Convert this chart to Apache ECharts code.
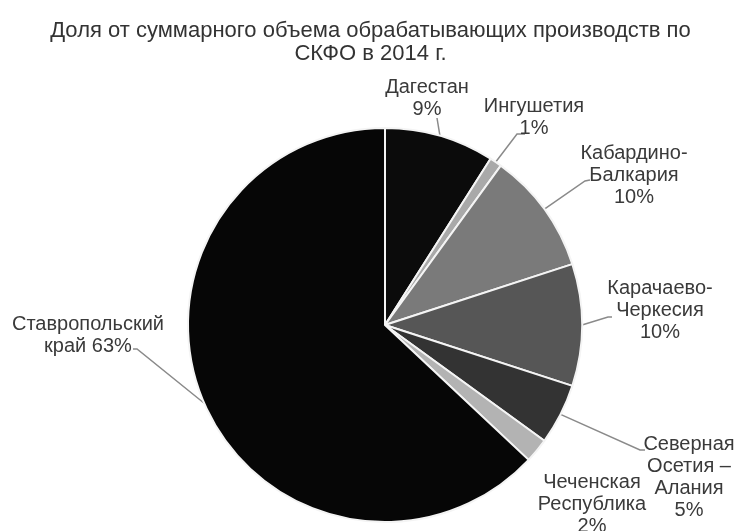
<!DOCTYPE html>
<html><head><meta charset="utf-8">
<script src="https://cdn.jsdelivr.net/npm/echarts@6/dist/echarts.min.js"></script>
<style>html,body{margin:0;padding:0;background:#fff}#c{width:741px;height:531px}</style>
</head><body><div id="c"></div>
<script>
const categories = ['Дагестан','Ингушетия','Кабардино-\nБалкария','Карачаево-\nЧеркесия','Северная\nОсетия –\nАлания','Чеченская\nРеспублика','Ставропольский\nкрай'];
const values = [9, 1, 10, 10, 5, 2, 63];
const titleText = 'Доля от суммарного объема обрабатывающих производств по\nСКФО в 2014 г.';

const colors = ['#0b0b0b','#a9a9a9','#7a7a7a','#565656','#333333','#b3b3b3','#060606'];
// label block centres and leader-line elbows (layout only)
const labelPos = [[427,98],[534,117],[634,175],[660,310],[689,477],[592,504],[88,335]];
const elbow = [null,[517,134],[585,181],[608,317],[640,450],null,[137,349]];
const lineEnd = [[437,118],[525,134],[590,180],[612,317],[645,450],null,[133,349]];

const chart = echarts.init(document.getElementById('c'));
chart.setOption({
  animation:false,
  title:{text:titleText,left:'center',top:14,textStyle:{fontFamily:'Liberation Sans',fontSize:22,fontWeight:'normal',color:'#333',lineHeight:23}},
  series:[{
    type:'pie',
    center:[385,325],
    radius:197,
    startAngle:90,
    clockwise:true,
    itemStyle:{borderColor:'#f4f4f4',borderWidth:2},
    label:{show:true,position:'outside',overflow:'none',width:300,fontFamily:'Liberation Sans',fontSize:20,color:'#3a3a3a',lineHeight:22,align:'center',
      formatter:p=>p.dataIndex===6?p.name+' '+p.value+'%':p.name+'\n'+p.value+'%'},
    labelLine:{show:true,lineStyle:{color:'#8a8a8a',width:1.5}},
    labelLayout:function(params){
      const i=params.dataIndex;
      const res={x:labelPos[i][0],y:labelPos[i][1],align:'center',verticalAlign:'middle'};
      const pts=params.labelLinePoints;
      if(pts && lineEnd[i]){
        const start=pts[0];
        if(elbow[i]) res.labelLinePoints=[start,elbow[i],lineEnd[i]];
        else res.labelLinePoints=[start,lineEnd[i],lineEnd[i]];
      }
      return res;
    },
    data:categories.map((n,i)=>({name:n,value:values[i],itemStyle:{color:colors[i]},labelLine:{show:lineEnd[i]!==null}}))
  }]
});
</script></body></html>
